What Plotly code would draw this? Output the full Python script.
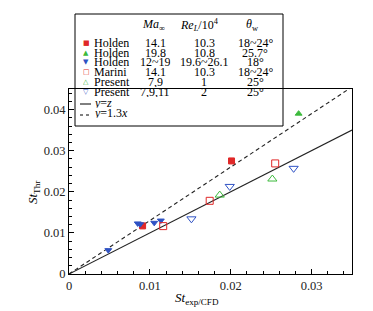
import plotly.graph_objects as go

# ---- data ----
holden_a_x = [0.0091, 0.0201]
holden_a_y = [0.0117, 0.0275]
holden_b_x = [0.0284]
holden_b_y = [0.0390]
holden_c_x = [0.00486, 0.00850, 0.00880, 0.01054, 0.01136]
holden_c_y = [0.0058, 0.0123, 0.0121, 0.01245, 0.0130]
marini_x = [0.01165, 0.0174, 0.0255]
marini_y = [0.01165, 0.0178, 0.0269]
present_a_x = [0.01864, 0.02515]
present_a_y = [0.0192, 0.0231]
present_b_x = [0.01514, 0.01988, 0.02778]
present_b_y = [0.01342, 0.0213, 0.0257]
line_x = [0.0, 0.035]
slope_b = 1.3

leg_names = ["Holden", "Holden", "Holden", "Marini", "Present", "Present"]
leg_ma = ["14.1", "19.8", "12~19", "14.1", "7,9", "7,9,11"]
leg_re = ["10.3", "10.8", "19.6~26.1", "10.3", "1", "2"]
leg_th = ["18~24°", "25.7°", "18°", "18~24°", "25°", "25°"]
leg_glyph = ["■", "▲", "▼", "□", "△", "▽"]

RED = "#e02828"
GREEN = "#3cba3c"
BLUE = "#2f52c4"
FONT = "Liberation Serif"

W, H = 373, 311
L, R, T, B = 69, 21, 89, 37
PW, PH = W - L - R, H - T - B


def px(x):
    return (x - L) / PW


def py(y):
    return (H - B - y) / PH


fig = go.Figure()

fig.add_trace(go.Scatter(x=line_x, y=line_x, mode="lines",
                         line=dict(color="#222", width=1.1), showlegend=False))
fig.add_trace(go.Scatter(x=line_x, y=[slope_b * v for v in line_x], mode="lines",
                         line=dict(color="#222", width=1.1, dash="4px,3px"),
                         showlegend=False))

series = [
    (holden_a_x, holden_a_y, "square", RED, 6),
    (holden_b_x, holden_b_y, "triangle-up", GREEN, 6),
    (holden_c_x, holden_c_y, "triangle-down", BLUE, 6),
    (marini_x, marini_y, "square-open", RED, 7),
    (present_a_x, present_a_y, "triangle-up-open", GREEN, 8),
    (present_b_x, present_b_y, "triangle-down-open", BLUE, 8),
]
for sx, sy, sym, col, sz in series:
    fig.add_trace(go.Scatter(x=sx, y=sy, mode="markers",
                             marker=dict(symbol=sym, color=col, size=sz,
                                         line=dict(color=col, width=1)),
                             showlegend=False))

# legend box
fig.add_shape(type="rect", xref="paper", yref="paper",
              x0=px(75), x1=px(283), y0=py(126), y1=py(14),
              line=dict(color="black", width=1), fillcolor="white", layer="below")

row_y = [43, 53, 62, 72, 82, 92]
leg_cols = [RED, GREEN, BLUE, RED, GREEN, BLUE]

ann = []


def txt(x, y, s, anchor="left", size=12, color="black", family=FONT, h=10):
    ann.append(dict(x=px(x), y=py(y), xref="paper", yref="paper", text=s,
                    showarrow=False, xanchor=anchor, yanchor="middle",
                    height=h, borderpad=0,
                    font=dict(family=family, size=size, color=color)))


txt(153, 25, "<i>Ma</i><sub>∞</sub>", "center", h=16)
txt(199, 25, "<i>Re</i><sub><i>L</i></sub>/10<sup>4</sup>", "center", h=16)
txt(252, 25, "<i>θ</i><sub>w</sub>", "center", h=16)
for i, yy in enumerate(row_y):
    txt(86, yy, leg_glyph[i], "center", size=7, color=leg_cols[i], family="DejaVu Sans")
    txt(93, yy, leg_names[i])
    txt(155, yy, leg_ma[i], "center")
    txt(204, yy, leg_re[i], "center")
    txt(255, yy, leg_th[i], "center")
txt(93, 103, "<i>y</i>=<i>z</i>")
txt(93, 113, "<i>y</i>=1.3<i>x</i>")

fig.add_shape(type="line", xref="paper", yref="paper", x0=px(80), x1=px(91),
              y0=py(104), y1=py(104), line=dict(color="black", width=1))
fig.add_shape(type="line", xref="paper", yref="paper", x0=px(80), x1=px(91),
              y0=py(115), y1=py(115), line=dict(color="black", width=1, dash="dot"))

# axis titles
ann.append(dict(x=px(197), y=py(298), xref="paper", yref="paper",
                xanchor="center", yanchor="middle",
                text="<i>St</i><sub>exp/CFD</sub>", showarrow=False,
                font=dict(family=FONT, size=13, color="black")))
ann.append(dict(x=px(33), y=py(193), xref="paper", yref="paper",
                xanchor="center", yanchor="middle",
                text="<i>St</i><sub>Thr</sub>", showarrow=False, textangle=-90,
                font=dict(family=FONT, size=13, color="black")))

axis_common = dict(showline=True, linecolor="black", linewidth=1, mirror=True,
                   ticks="inside", ticklen=5, tickcolor="black", showgrid=False,
                   zeroline=False, tickfont=dict(family=FONT, size=12.5, color="#222"))

xt = [0, 0.01, 0.02, 0.03]
yt = [0, 0.01, 0.02, 0.03, 0.04]
fig.update_layout(
    width=W, height=H, margin=dict(l=L, r=R, t=T, b=B, pad=0),
    paper_bgcolor="white", plot_bgcolor="white",
    xaxis=dict(range=[0, 0.035], tickvals=xt, ticktext=["0", "0.01", "0.02", "0.03"],
               minor=dict(dtick=0.002, ticks="inside", ticklen=3, tickcolor="black"),
               **axis_common),
    yaxis=dict(range=[0, 0.045], tickvals=yt,
               ticktext=["0", "0.01", "0.02", "0.03", "0.04"],
               minor=dict(dtick=0.002, ticks="inside", ticklen=3, tickcolor="black"),
               **axis_common),
    annotations=ann,
    showlegend=False,
)

fig.write_html("out.html", config={"displayModeBar": False},
               post_script="document.body.style.margin='0';document.body.style.overflow='hidden';")
